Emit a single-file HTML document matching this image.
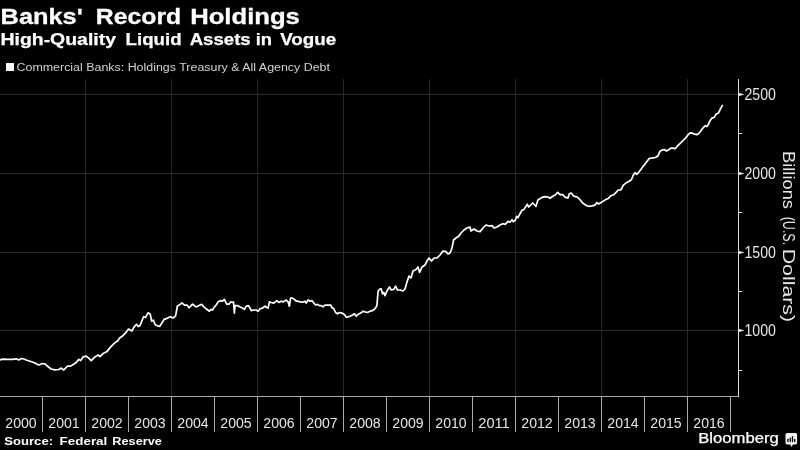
<!DOCTYPE html>
<html><head><meta charset="utf-8"><style>
html,body{margin:0;padding:0;background:#000;width:800px;height:450px;overflow:hidden}
svg{display:block;will-change:transform;font-family:"Liberation Sans",sans-serif}
</style></head><body>
<svg width="800" height="450" viewBox="0 0 800 450">
<rect width="800" height="450" fill="#000"/>
<g fill="#fff" stroke="#fff" stroke-width="0.3" font-weight="bold" font-size="22.9px"><text x="0.62" y="23.9" textLength="82.13" lengthAdjust="spacingAndGlyphs">Banks'</text><text x="95.84" y="23.9" textLength="85.35" lengthAdjust="spacingAndGlyphs">Record</text><text x="190.15" y="23.9" textLength="109.76" lengthAdjust="spacingAndGlyphs">Holdings</text></g>
<g fill="#fff" stroke="#fff" stroke-width="0.25" font-weight="bold" font-size="16.2px"><text x="0.5" y="45" textLength="115.48" lengthAdjust="spacingAndGlyphs">High-Quality</text><text x="125.54" y="45" textLength="56.09" lengthAdjust="spacingAndGlyphs">Liquid</text><text x="189.7" y="45" textLength="61.01" lengthAdjust="spacingAndGlyphs">Assets</text><text x="255.67" y="45" textLength="16.27" lengthAdjust="spacingAndGlyphs">in</text><text x="280.2" y="45" textLength="56.11" lengthAdjust="spacingAndGlyphs">Vogue</text></g>
<rect x="6" y="63" width="8" height="8" fill="#fff"/>
<text x="16.5" y="71.2" fill="#d2d2d2" font-size="11.7px" textLength="313.5" lengthAdjust="spacingAndGlyphs">Commercial Banks: Holdings Treasury &amp; All Agency Debt</text>
<g stroke="#2c2c2c" stroke-width="1" fill="none"><g stroke="#272727"><line x1="85.5" y1="79" x2="85.5" y2="396" /><line x1="171.5" y1="79" x2="171.5" y2="396" /><line x1="257.5" y1="79" x2="257.5" y2="396" /><line x1="343.5" y1="79" x2="343.5" y2="396" /><line x1="429.5" y1="79" x2="429.5" y2="396" /><line x1="515.5" y1="79" x2="515.5" y2="396" /><line x1="601.5" y1="79" x2="601.5" y2="396" /><line x1="687.5" y1="79" x2="687.5" y2="396" /></g><line x1="0" y1="94.5" x2="738" y2="94.5" /><line x1="0" y1="173.5" x2="738" y2="173.5" /><line x1="0" y1="252.5" x2="738" y2="252.5" /><line x1="0" y1="330.5" x2="738" y2="330.5" /></g>
<polyline points="0.0,360.0 2.5,359.1 7.5,359.4 12.5,359.4 16.2,358.8 18.8,360.0 21.2,358.5 23.8,359.0 26.2,360.0 30.0,361.2 33.8,362.5 38.8,365.0 42.5,363.5 45.0,364.0 47.5,366.2 51.2,369.0 55.0,369.8 58.8,369.5 61.2,368.1 63.8,370.0 67.5,366.2 70.0,366.2 72.5,365.0 76.2,362.5 78.8,359.4 80.6,360.6 83.1,356.9 86.2,356.2 88.8,358.1 91.2,360.6 95.0,356.9 98.1,355.0 100.0,356.7 103.6,353.2 107.1,351.4 110.7,346.9 114.2,343.4 117.8,340.7 119.6,338.0 122.2,336.3 125.8,332.7 128.5,329.1 132.0,330.9 133.8,327.4 136.5,324.2 138.3,326.5 140.0,325.6 141.8,321.1 143.6,316.7 145.4,317.6 148.0,312.8 150.2,314.0 151.6,321.1 153.4,320.2 155.2,324.7 156.9,325.6 159.6,326.5 161.4,323.8 164.1,319.4 167.6,318.1 170.3,316.7 173.0,318.1 175.6,315.8 177.4,306.0 179.2,305.1 181.9,302.8 184.5,305.1 187.2,305.1 189.0,307.8 192.5,304.2 196.1,306.9 200.0,305.0 201.9,304.4 203.8,306.9 206.2,308.8 209.4,311.2 211.2,309.4 212.5,310.0 214.4,306.9 216.2,305.0 218.1,301.9 220.6,300.6 222.5,301.2 224.4,299.4 225.6,301.9 226.9,304.4 229.4,303.8 230.6,301.9 232.5,302.5 233.5,301.9 234.4,313.1 235.0,305.6 237.5,305.6 240.0,306.9 242.5,308.1 244.4,309.4 246.2,306.2 248.1,305.6 249.4,306.9 251.2,310.6 253.8,310.0 256.2,310.0 258.1,311.2 260.0,308.8 262.5,308.1 265.0,306.2 266.9,307.5 268.1,308.1 269.4,301.9 271.2,302.5 273.8,303.1 276.9,300.6 278.8,302.5 281.2,301.2 283.1,301.9 286.2,300.0 288.1,301.9 289.4,306.2 290.6,298.1 292.5,298.1 294.4,299.4 296.2,301.2 298.1,301.2 300.0,301.9 302.5,302.2 305.0,301.2 306.2,303.1 308.1,300.0 310.0,301.2 311.9,300.6 313.8,303.1 315.6,305.0 317.5,304.4 319.4,305.6 321.2,305.6 323.1,306.9 325.0,305.0 327.5,305.2 330.6,305.0 331.9,307.5 333.8,308.8 335.6,312.5 337.5,313.8 339.4,312.5 341.9,313.1 344.4,314.4 346.2,317.2 348.1,316.9 350.0,316.2 352.5,315.0 354.4,313.8 356.2,316.2 358.1,314.4 360.6,313.1 363.1,311.2 365.0,311.9 367.5,312.5 370.0,311.2 372.5,310.6 375.0,308.8 376.9,305.6 378.1,291.2 379.4,289.4 381.2,288.8 382.5,293.8 383.8,292.5 385.0,295.6 386.9,291.2 389.4,286.9 391.2,290.0 393.8,289.4 395.6,286.2 397.5,290.0 400.0,290.0 403.0,291.0 405.0,289.0 407.0,282.0 409.0,276.0 411.0,278.0 413.0,271.0 416.0,269.6 418.0,267.0 419.6,272.4 422.0,267.0 425.0,265.0 427.0,261.0 429.0,258.0 431.6,261.0 434.0,258.0 437.0,258.0 440.0,255.0 443.0,251.0 446.0,251.6 448.0,254.0 450.0,253.0 452.0,248.0 453.6,240.0 456.0,238.0 459.0,236.0 461.0,233.0 464.0,230.0 467.0,228.0 470.0,227.0 471.0,231.0 474.0,229.0 477.0,231.0 480.0,231.6 483.0,228.0 486.0,225.0 489.0,226.0 492.0,225.6 494.0,228.0 497.0,227.0 500.0,225.0 502.7,223.7 505.3,224.3 508.0,221.4 510.0,222.3 512.0,219.7 513.3,221.7 515.3,220.3 516.7,216.3 518.0,217.7 520.0,213.7 522.0,210.3 524.0,209.4 526.0,206.3 527.3,204.3 528.7,207.0 530.7,205.0 532.7,203.0 534.7,205.0 536.0,206.3 538.0,199.7 540.0,198.7 542.0,197.4 544.7,196.6 548.0,197.0 550.0,198.3 552.7,196.3 555.3,195.0 557.7,192.3 560.0,194.7 562.7,194.7 565.3,197.4 568.0,197.9 569.3,193.7 571.3,193.0 573.3,195.7 575.3,196.6 577.3,197.0 580.0,199.7 582.7,203.0 586.0,205.4 588.7,206.3 592.0,205.9 595.0,205.2 596.8,202.6 598.6,204.0 601.5,202.2 605.7,199.6 608.3,198.4 611.0,195.7 613.6,194.8 616.3,192.2 618.1,190.0 620.8,190.0 623.4,185.1 626.1,182.9 628.7,181.5 631.4,179.7 633.2,175.3 635.0,172.6 636.7,174.4 638.5,172.6 641.2,169.1 643.0,166.4 644.7,164.6 646.5,162.0 649.2,158.4 651.8,158.1 655.4,157.5 658.0,155.8 660.0,151.3 662.2,150.1 664.3,149.5 666.5,151.0 668.7,149.8 670.8,148.1 673.0,148.1 675.2,148.7 677.3,146.2 680.2,143.3 683.1,140.5 686.0,137.6 688.1,134.7 690.3,132.8 692.5,133.2 694.6,134.2 696.8,134.7 699.0,133.2 701.1,130.4 703.3,127.5 705.5,125.6 706.9,126.5 708.3,124.6 709.8,121.0 711.9,118.1 714.1,117.4 716.3,114.0 718.4,113.0 720.6,108.7 722.3,105.4" fill="none" stroke="#fff" stroke-width="1.7" stroke-linejoin="round" stroke-linecap="round"/>
<line x1="0" y1="396.5" x2="739" y2="396.5" stroke="#aaa" stroke-width="1"/>
<line x1="738.5" y1="79" x2="738.5" y2="397" stroke="#ddd" stroke-width="1"/>
<g stroke="#aaa" stroke-width="1"><line x1="42.5" y1="397" x2="42.5" y2="432" /><line x1="85.5" y1="397" x2="85.5" y2="432" /><line x1="128.5" y1="397" x2="128.5" y2="432" /><line x1="171.5" y1="397" x2="171.5" y2="432" /><line x1="214.5" y1="397" x2="214.5" y2="432" /><line x1="257.5" y1="397" x2="257.5" y2="432" /><line x1="300.5" y1="397" x2="300.5" y2="432" /><line x1="343.5" y1="397" x2="343.5" y2="432" /><line x1="386.5" y1="397" x2="386.5" y2="432" /><line x1="429.5" y1="397" x2="429.5" y2="432" /><line x1="472.5" y1="397" x2="472.5" y2="432" /><line x1="515.5" y1="397" x2="515.5" y2="432" /><line x1="558.5" y1="397" x2="558.5" y2="432" /><line x1="601.5" y1="397" x2="601.5" y2="432" /><line x1="644.5" y1="397" x2="644.5" y2="432" /><line x1="687.5" y1="397" x2="687.5" y2="432" /><line x1="730.5" y1="397" x2="730.5" y2="432" /></g>
<g fill="#eee"><path d="M739 92.9 L744.5 94.5 L739 96.1 Z" /><path d="M739 171.9 L744.5 173.5 L739 175.1 Z" /><path d="M739 250.9 L744.5 252.5 L739 254.1 Z" /><path d="M739 328.9 L744.5 330.5 L739 332.1 Z" /></g>
<g stroke="#ddd" stroke-width="1"><line x1="739" y1="133.5" x2="742" y2="133.5" /><line x1="739" y1="212.5" x2="742" y2="212.5" /><line x1="739" y1="291.5" x2="742" y2="291.5" /><line x1="739" y1="370.5" x2="742" y2="370.5" /></g>
<g fill="#e6e6e6" font-size="15.4px"><text x="5.300000000000001" y="428.2" textLength="31.4" lengthAdjust="spacingAndGlyphs">2000</text><text x="48.3" y="428.2" textLength="31.4" lengthAdjust="spacingAndGlyphs">2001</text><text x="91.3" y="428.2" textLength="31.4" lengthAdjust="spacingAndGlyphs">2002</text><text x="134.3" y="428.2" textLength="31.4" lengthAdjust="spacingAndGlyphs">2003</text><text x="177.3" y="428.2" textLength="31.4" lengthAdjust="spacingAndGlyphs">2004</text><text x="220.3" y="428.2" textLength="31.4" lengthAdjust="spacingAndGlyphs">2005</text><text x="263.3" y="428.2" textLength="31.4" lengthAdjust="spacingAndGlyphs">2006</text><text x="306.3" y="428.2" textLength="31.4" lengthAdjust="spacingAndGlyphs">2007</text><text x="349.3" y="428.2" textLength="31.4" lengthAdjust="spacingAndGlyphs">2008</text><text x="392.3" y="428.2" textLength="31.4" lengthAdjust="spacingAndGlyphs">2009</text><text x="435.3" y="428.2" textLength="31.4" lengthAdjust="spacingAndGlyphs">2010</text><text x="478.3" y="428.2" textLength="31.4" lengthAdjust="spacingAndGlyphs">2011</text><text x="521.3" y="428.2" textLength="31.4" lengthAdjust="spacingAndGlyphs">2012</text><text x="564.3" y="428.2" textLength="31.4" lengthAdjust="spacingAndGlyphs">2013</text><text x="607.3" y="428.2" textLength="31.4" lengthAdjust="spacingAndGlyphs">2014</text><text x="650.3" y="428.2" textLength="31.4" lengthAdjust="spacingAndGlyphs">2015</text><text x="693.3" y="428.2" textLength="31.4" lengthAdjust="spacingAndGlyphs">2016</text></g>
<g fill="#e6e6e6" font-size="15.6px"><text x="744.5" y="100.0" textLength="31.4" lengthAdjust="spacingAndGlyphs">2500</text><text x="744.5" y="179.0" textLength="31.4" lengthAdjust="spacingAndGlyphs">2000</text><text x="744.5" y="258.0" textLength="31.4" lengthAdjust="spacingAndGlyphs">1500</text><text x="744.5" y="336.0" textLength="31.4" lengthAdjust="spacingAndGlyphs">1000</text></g>
<g transform="translate(783,0) rotate(90)" fill="#e6e6e6" font-size="16px"><text x="151.06" y="0" textLength="57.89" lengthAdjust="spacingAndGlyphs">Billions</text><text x="216.72" y="0" textLength="28.41" lengthAdjust="spacingAndGlyphs">(U.S.</text><text x="248.67" y="0" textLength="73.5" lengthAdjust="spacingAndGlyphs">Dollars)</text></g>
<g fill="#fff" font-weight="bold" font-size="11.5px"><text x="4.3" y="445.2" textLength="48.74" lengthAdjust="spacingAndGlyphs">Source:</text><text x="59.6" y="445.2" textLength="47.71" lengthAdjust="spacingAndGlyphs">Federal</text><text x="112.3" y="445.2" textLength="49.54" lengthAdjust="spacingAndGlyphs">Reserve</text></g>
<text x="698.21" y="443" fill="#fff" font-size="14px" stroke="#fff" stroke-width="0.25" textLength="80.63" lengthAdjust="spacingAndGlyphs">Bloomberg</text>
<g transform="translate(785.5,433)">
<rect x="0" y="0" width="11.6" height="11.4" rx="1.6" fill="#f2f2f2"/>
<path d="M4.4 11.2 L6 13.9 L7.6 11.2 Z" fill="#f2f2f2"/>
<g stroke="#000" stroke-width="1.3" stroke-linecap="round"><line x1="2.4" y1="6.3" x2="2.4" y2="8.6"/><line x1="4.8" y1="5.2" x2="4.8" y2="8.6"/><line x1="7" y1="3.6" x2="7" y2="8.6"/><line x1="9.2" y1="6.5" x2="9.2" y2="8.6"/></g>
</g>
</svg>
</body></html>
